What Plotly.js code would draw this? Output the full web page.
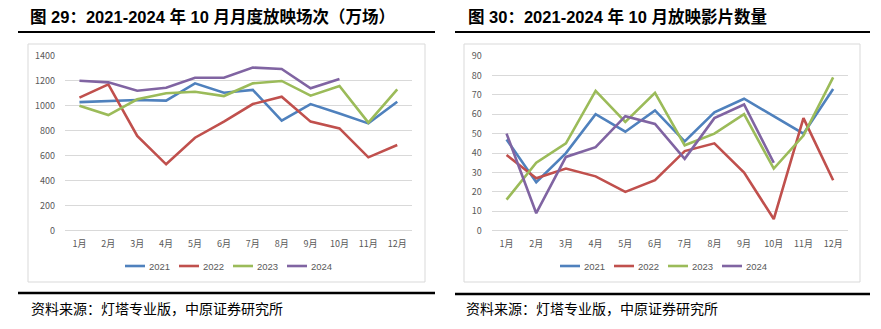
<!DOCTYPE html>
<html>
<head>
<meta charset="utf-8">
<script src="https://cdn.plot.ly/plotly-3.0.1.min.js"></script>
<style>html,body{margin:0;padding:0;background:#fff;}#chart{width:881px;height:329px;}</style>
</head>
<body>
<div id="chart"></div>
<script>
const months = ["1月","2月","3月","4月","5月","6月","7月","8月","9月","10月","11月","12月"];
const seriesNames = ["2021","2022","2023","2024"];
const colors = ["#4F81BD","#C0504D","#9BBB59","#8064A2"];

// Chart 29: monthly screenings (10k)
const screen2021 = [1030,1038,1047,1042,1181,1106,1128,882,1015,940,860,1034];
const screen2022 = [1066,1173,759,532,745,874,1015,1074,874,820,588,687];
const screen2023 = [1002,927,1053,1101,1114,1079,1181,1200,1082,1160,866,1133];
const screen2024 = [1202,1189,1122,1146,1226,1226,1307,1296,1141,1216];

// Chart 30: number of films screened
const films2021 = [47,25,40,60,51,62,46,61,68,59,50,73];
const films2022 = [39,27,32,28,20,26,41,45,30,6,58,26];
const films2023 = [16,35,45,72,56,71,44,50,60,32,49,79];
const films2024 = [50,9,38,43,59,55,37,58,65,35];

const title29 = "图 29：2021-2024 年 10 月月度放映场次（万场）";
const title30 = "图 30：2021-2024 年 10 月放映影片数量";
const sourceText = "资料来源：灯塔专业版，中原证券研究所";

const W = 881, H = 329;
const px = x => x / W;
const py = y => 1 - y / H;

const left = [screen2021, screen2022, screen2023, screen2024];
const right = [films2021, films2022, films2023, films2024];

const traces = [];
left.forEach((vals, i) => {
  traces.push({
    x: months.slice(0, vals.length), y: vals, type: "scatter", mode: "lines",
    name: seriesNames[i], line: {color: colors[i], width: 2.6},
    xaxis: "x", yaxis: "y", showlegend: false
  });
});
right.forEach((vals, i) => {
  traces.push({
    x: months.slice(0, vals.length), y: vals, type: "scatter", mode: "lines",
    name: seriesNames[i], line: {color: colors[i], width: 2.6},
    xaxis: "x2", yaxis: "y2", showlegend: false
  });
});

const tickFont = {family: "Noto Sans CJK SC, Liberation Sans, sans-serif", size: 9, color: "#595959"};
const grid = "#D9D9D9";

function xAx(domain, anchor) {
  return {
    domain: domain, anchor: anchor, type: "category", categoryorder: "array", categoryarray: months,
    range: [-0.5, 11.5], showgrid: false, zeroline: false, showline: false,
    tickfont: tickFont, ticks: "", ticklabelstandoff: 6, fixedrange: true
  };
}
function yAx(domain, anchor, range, dtick) {
  return {
    domain: domain, anchor: anchor, range: range, dtick: dtick, showgrid: true, gridcolor: grid,
    gridwidth: 1, zeroline: true, zerolinecolor: grid, zerolinewidth: 1, showline: false,
    tickfont: tickFont, ticks: "", ticklabelstandoff: 9, fixedrange: true
  };
}

const yDom = [py(230.7), py(56)];
const legFont = {family: "Liberation Sans, sans-serif", size: 9.5, color: "#595959"};

const shapes = [
  {type: "rect", xref: "paper", yref: "paper", x0: px(28), x1: px(425), y0: py(282), y1: py(44), line: {color: grid, width: 1}},
  {type: "rect", xref: "paper", yref: "paper", x0: px(464), x1: px(860), y0: py(282), y1: py(44), line: {color: grid, width: 1}},
  {type: "line", xref: "paper", yref: "paper", x0: px(18), x1: px(435), y0: py(32), y1: py(32), line: {color: "#000", width: 2}},
  {type: "line", xref: "paper", yref: "paper", x0: px(455), x1: px(870), y0: py(32), y1: py(32), line: {color: "#000", width: 2}},
  {type: "line", xref: "paper", yref: "paper", x0: px(18), x1: px(435), y0: py(293), y1: py(293), line: {color: "#000", width: 2.5}},
  {type: "line", xref: "paper", yref: "paper", x0: px(455), x1: px(870), y0: py(294), y1: py(294), line: {color: "#000", width: 2.5}}
];
const annotations = [
  {text: "<b>" + title29 + "</b>", xref: "paper", yref: "paper", x: px(28), y: py(17), xanchor: "left", yanchor: "middle",
    showarrow: false, font: {family: "Liberation Sans, Noto Sans CJK SC, sans-serif", size: 16.5, color: "#000"}},
  {text: "<b>" + title30 + "</b>", xref: "paper", yref: "paper", x: px(466), y: py(17), xanchor: "left", yanchor: "middle",
    showarrow: false, font: {family: "Liberation Sans, Noto Sans CJK SC, sans-serif", size: 16.5, color: "#000"}},
  {text: sourceText, xref: "paper", yref: "paper", x: px(29), y: py(308), xanchor: "left", yanchor: "middle",
    showarrow: false, font: {family: "Noto Sans CJK SC, sans-serif", size: 14, color: "#000"}},
  {text: sourceText, xref: "paper", yref: "paper", x: px(464), y: py(308), xanchor: "left", yanchor: "middle",
    showarrow: false, font: {family: "Noto Sans CJK SC, sans-serif", size: 14, color: "#000"}}
];

// Legends (Excel style: short line + label), one per panel
const legendStarts = [125, 560];
const legendStep = 54, legendY = 266;
legendStarts.forEach(x0 => {
  seriesNames.forEach((nm, i) => {
    const lx = x0 + i * legendStep;
    shapes.push({type: "line", xref: "paper", yref: "paper", x0: px(lx), x1: px(lx + 20),
      y0: py(legendY), y1: py(legendY), line: {color: colors[i], width: 2.6}});
    annotations.push({text: nm, xref: "paper", yref: "paper", x: px(lx + 22), y: py(legendY),
      xanchor: "left", yanchor: "middle", showarrow: false, font: legFont});
  });
});

const layout = {
  width: W, height: H, margin: {l: 0, r: 0, t: 0, b: 0},
  paper_bgcolor: "#fff", plot_bgcolor: "#fff",
  showlegend: false,
  xaxis: xAx([px(65), px(411.7)], "y"),
  yaxis: yAx(yDom, "x", [0, 1400], 200),
  xaxis2: xAx([px(491.7), px(848)], "y2"),
  yaxis2: yAx(yDom, "x2", [0, 90], 10),
  shapes: shapes,
  annotations: annotations
};

Plotly.newPlot("chart", traces, layout, {displayModeBar: false, staticPlot: true});
</script>
</body>
</html>
